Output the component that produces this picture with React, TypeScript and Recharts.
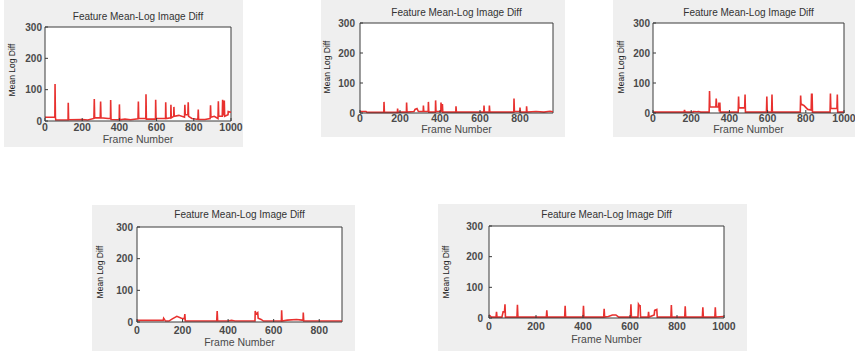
import React from "react";
import { LineChart, Line, XAxis, YAxis, CartesianGrid, ReferenceLine } from "recharts";

// ---------- data (frame number, mean log diff) ----------
const frames1 = [0,53,54,56,58,124,125,127,200,230,263,265,267,297,299,301,340,352,353,355,399,400,402,430,460,500,502,504,542,543,545,594,595,597,648,649,651,676,677,679,692,693,695,720,750,752,754,768,770,772,790,822,824,826,860,888,890,892,910,930,932,934,953,955,957,963,964,966,984,985,1000];
const values1 = [12,13,118,12,3,3,58,4,5,3,8,70,10,10,62,10,8,8,67,5,4,53,4,6,4,7,62,8,8,85,6,6,68,8,8,60,8,10,52,10,15,45,15,18,12,52,20,20,60,15,8,5,37,5,5,8,50,12,15,8,63,15,15,68,20,20,65,15,20,30,28];

const frames2 = [0,30,35,119,120,122,187,188,190,232,233,235,270,275,285,292,316,317,319,341,342,344,377,378,380,404,405,407,411,412,414,479,480,482,619,620,622,646,647,649,769,770,772,799,800,802,832,833,835,880,920,950,965];
const values2 = [5,5,2,2,37,2,2,15,3,3,35,3,5,12,15,5,5,25,5,5,37,3,3,42,5,5,35,5,5,30,3,3,22,3,3,25,3,3,25,3,3,48,5,5,18,3,3,22,3,5,3,6,4];

const frames3 = [0,163,165,168,210,212,230,239,250,294,296,298,329,331,334,344,345,347,350,352,446,448,450,480,482,484,594,596,598,621,623,625,771,773,775,790,810,828,830,833,835,927,929,931,963,965,967,1000];
const values3 = [3,3,10,3,3,5,4,5,3,3,73,20,20,48,20,20,35,5,35,3,3,55,17,17,62,3,3,55,3,3,62,3,3,58,30,25,12,10,62,62,3,3,65,15,15,62,3,3];

const frames4 = [0,115,117,119,125,140,155,175,195,208,210,212,350,352,354,400,415,430,518,519,521,530,532,545,555,634,635,637,660,700,725,729,730,732,900];
const values4 = [5,5,12,10,3,3,10,18,12,10,25,3,3,35,3,3,5,3,3,35,25,30,12,8,3,3,37,3,6,8,6,6,30,3,3];

const frames5 = [0,10,30,32,34,55,60,66,68,70,119,121,123,244,246,248,322,324,326,400,402,404,488,490,492,508,525,540,552,602,604,606,634,636,640,643,645,677,679,681,703,705,714,716,774,776,778,833,835,837,908,910,912,961,963,965,1000];
const values5 = [10,3,3,20,3,3,20,20,45,3,3,43,3,3,25,3,3,40,3,3,40,3,3,30,3,5,10,10,3,3,45,3,3,45,40,40,3,3,20,3,10,25,28,3,3,42,3,3,38,3,3,35,3,3,35,3,5];

const yTicks = [0, 100, 200, 300];
const yMax = 300;
const xTicks1000 = [0, 200, 400, 600, 800, 1000];
const xTicks800 = [0, 200, 400, 600, 800];

const TITLE = "Feature Mean-Log Image Diff";
const XLABEL = "Frame Number";
const YLABEL = "Mean Log Diff";

const toRows = (f: number[], v: number[]) => f.map((frame, i) => ({ frame, value: v[i] }));

// ---------- layout ----------
type Cfg = {
  panel: { x: number; y: number; w: number; h: number };
  plot: { l: number; t: number; r: number; b: number };
  frames: number[];
  values: number[];
  xMax: number;
  xTicks: number[];
  xtm: number;
  ytm: number;
  titleY: number;
  xLabelY: number;
  yLabelX: number;
  yLabelY: number;
};

const panels: Cfg[] = [
  { panel: { x: 4, y: 0, w: 239, h: 147 }, plot: { l: 45, t: 27, r: 231, b: 121 }, frames: frames1, values: values1, xMax: 1000, xTicks: xTicks1000, xtm: 6, ytm: 6, titleY: 17, xLabelY: 139, yLabelX: 12, yLabelY: 70 },
  { panel: { x: 321, y: 0, w: 244, h: 137 }, plot: { l: 360, t: 23, r: 553, b: 113 }, frames: frames2, values: values2, xMax: 965, xTicks: xTicks800, xtm: 5, ytm: 8, titleY: 13, xLabelY: 129, yLabelX: 327, yLabelY: 67 },
  { panel: { x: 613, y: 0, w: 242, h: 137 }, plot: { l: 653, t: 23, r: 844, b: 113 }, frames: frames3, values: values3, xMax: 1000, xTicks: xTicks1000, xtm: 5, ytm: 6, titleY: 13, xLabelY: 129, yLabelX: 621, yLabelY: 67 },
  { panel: { x: 92, y: 205, w: 263, h: 146 }, plot: { l: 137, t: 227, r: 342, b: 322 }, frames: frames4, values: values4, xMax: 900, xTicks: xTicks800, xtm: 8, ytm: 7, titleY: 215, xLabelY: 342, yLabelX: 100, yLabelY: 272 },
  { panel: { x: 438, y: 204, w: 309, h: 147 }, plot: { l: 489, t: 226, r: 724, b: 318 }, frames: frames5, values: values5, xMax: 1000, xTicks: xTicks1000, xtm: 8, ytm: 9, titleY: 215, xLabelY: 338.5, yLabelX: 446, yLabelY: 272 },
];

const YW = 30;
const XH = 20;
const AX = "#3a3a3a";
const TXT = "#4a4a4a";
const RED = "#e8312f";
const FONT = "'Liberation Sans', Arial, sans-serif";

function Panel({ c }: { c: Cfg }) {
  const { panel, plot } = c;
  const data = toRows(c.frames, c.values);
  const cx = (plot.l + plot.r) / 2 - panel.x;
  return (
    <div style={{ position: "absolute", left: panel.x, top: panel.y, width: panel.w, height: panel.h, background: "#efefef" }}>
      <LineChart
        width={panel.w}
        height={panel.h}
        data={data}
        margin={{
          top: plot.t - panel.y,
          right: panel.x + panel.w - plot.r,
          bottom: panel.y + panel.h - plot.b - XH,
          left: plot.l - panel.x - YW,
        }}
        style={{ fontFamily: FONT }}
      >
        <CartesianGrid horizontal={false} vertical={false} fill="#ffffff" />
        <XAxis
          type="number"
          dataKey="frame"
          domain={[0, c.xMax]}
          ticks={c.xTicks}
          interval={0}
          allowDataOverflow
          height={XH}
          tickSize={-3}
          tickMargin={c.xtm}
          axisLine={{ stroke: AX }}
          tickLine={{ stroke: AX }}
          tick={{ fontSize: 10.5, fontWeight: 700, fill: TXT }}
        />
        <YAxis
          domain={[0, yMax]}
          ticks={yTicks}
          interval={0}
          width={YW}
          tickSize={-3}
          tickMargin={c.ytm}
          axisLine={{ stroke: AX }}
          tickLine={{ stroke: AX }}
          tick={{ fontSize: 10, fontWeight: 700, fill: TXT }}
        />
        <ReferenceLine y={yMax} stroke={AX} strokeWidth={1} ifOverflow="visible" />
        <ReferenceLine x={c.xMax} stroke={AX} strokeWidth={1} ifOverflow="visible" />
        <Line type="linear" dataKey="value" stroke={RED} strokeWidth={1.6} dot={false} isAnimationActive={false} />
      </LineChart>
      <div style={{ position: "absolute", left: cx, top: c.titleY - panel.y, transform: "translate(-50%, -50%)", fontFamily: FONT, fontSize: 10, color: "#333", whiteSpace: "nowrap", lineHeight: 1 }}>
        {TITLE}
      </div>
      <div style={{ position: "absolute", left: cx, top: c.xLabelY - panel.y, transform: "translate(-50%, -50%)", fontFamily: FONT, fontSize: 10.5, color: TXT, whiteSpace: "nowrap", lineHeight: 1 }}>
        {XLABEL}
      </div>
      <div style={{ position: "absolute", left: c.yLabelX - panel.x, top: c.yLabelY - panel.y, transform: "translate(-50%, -50%) rotate(-90deg)", fontFamily: FONT, fontSize: 8.5, color: "#222", whiteSpace: "nowrap", lineHeight: 1 }}>
        {YLABEL}
      </div>
    </div>
  );
}

export default function App() {
  return (
    <div style={{ position: "fixed", left: 0, top: 0, width: 855, height: 351, background: "#ffffff", overflow: "hidden" }}>
      {panels.map((c, i) => (
        <Panel key={i} c={c} />
      ))}
    </div>
  );
}
